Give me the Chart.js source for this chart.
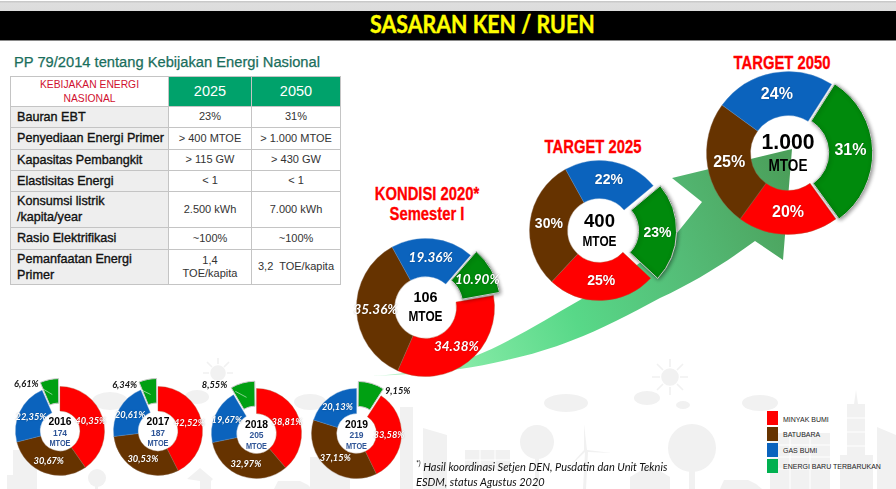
<!DOCTYPE html>
<html><head><meta charset="utf-8">
<script src="https://cdn.jsdelivr.net/npm/chart.js@4"></script>
<style>
html,body{margin:0;padding:0;background:#fff;overflow:hidden}
#page{position:relative;width:896px;height:489px;overflow:hidden;font-family:"Liberation Sans",Arial,sans-serif}
#page>*{position:absolute}
#strip{left:0;top:1px;width:896px;height:10px;background:linear-gradient(#c4c4c4,#dedede 25%,#dcdcdc)}
#bar{left:0;top:11px;width:896px;height:29px;background:#000;border-bottom:1px solid #8a8a8a}
#head{left:370px;top:9px;font:700 24px/30px Lato,sans-serif;color:#ffff00;white-space:nowrap;-webkit-text-stroke:.4px #ffff00;transform:scaleX(.89);transform-origin:left center}
#sub{left:14px;top:53px;font:500 14.7px/18px "Liberation Sans",sans-serif;color:#1a6e5c;white-space:nowrap;-webkit-text-stroke:.25px #1a6e5c}
table{left:10px;top:76px;width:330px;height:209px;border-collapse:collapse;table-layout:fixed}
td{border:1px solid #c4c4c4;padding:0;text-align:center;font-size:11px;line-height:13.5px;color:#333;vertical-align:middle}
td.l{background:#eeeeee;color:#111;text-align:left;padding-left:6px;font-size:12.6px;line-height:16px;-webkit-text-stroke:.35px #111;white-space:nowrap}
td.h{background:#00a26b;color:#fff;font-size:14.5px}
td.k{color:#d01030;font-size:10.3px;line-height:14px}
.title{color:#ff0000;font:700 18.5px/20px "Liberation Sans",sans-serif;text-align:center;white-space:nowrap;transform:translateX(-50%) scaleX(.8);-webkit-text-stroke:.3px #f00}
canvas{position:absolute}
.sw{width:11px;height:14px}
.lg{left:783px;font:400 7px/10px "Liberation Sans",sans-serif;color:#222;white-space:nowrap}
#note{left:416px;top:460px;font:italic 400 11px/14.5px Lato,sans-serif;color:#111;white-space:nowrap}
#note sup{font-size:7px;line-height:0}
</style></head><body>
<div id="page">
<svg id="decor" width="896" height="489" style="left:0;top:0" fill="#f1f1f1" stroke="none">
<g id="suns" stroke="#f1f1f1" stroke-width="1.6">
<circle cx="670" cy="377" r="8"/><path d="M670 359v8M670 387v8M652 377h8M680 377h8M657 364l6 6M677 384l6 6M683 364l-6 6M663 384l-6 6"/>
<circle cx="218" cy="373" r="7"/><path d="M218 358v6M203 373h6M227 373h6M207 362l5 5M229 362l-5 5"/>
</g>
<g>
<ellipse cx="566" cy="403" rx="22" ry="9"/><ellipse cx="647" cy="398" rx="13" ry="7"/><ellipse cx="683" cy="405" rx="7" ry="4"/><ellipse cx="760" cy="403" rx="18" ry="8"/>
<ellipse cx="110" cy="401" rx="18" ry="9"/><ellipse cx="197" cy="397" rx="12" ry="7"/><ellipse cx="310" cy="402" rx="16" ry="8"/>
<circle cx="537" cy="442" r="17"/><rect x="535" y="442" width="4" height="47"/>
<circle cx="692" cy="448" r="24"/><rect x="689" y="448" width="6" height="41"/>
<circle cx="97" cy="478" r="9"/><rect x="95" y="478" width="3" height="11"/>
<path d="M584 424l3 26 25 3-24-1-2 37h-3l2-37-18 17 17-19z"/>
<path d="M630 489v-12l20-12 20 12v12z"/><path d="M200 489v-8l-13-2 13-11 13 11-2 2v8z"/>
<path d="M465 450h45v20h-45zM7 475h23v14H7z"/>
<path d="M856 390l2 14h7v85h-18v-85h7z"/><path d="M840 455h33v34h-33zM877 427l19 8v54h-19zM770 433h60v56h-60z"/>
<path d="M423 428l24 7v54h-24zM400 407h13v82h-13zM13 450h24v39H13zM310 457h40v32h-40z"/>
<path d="M720 489l4-9h24l8 4 6 5z"/><path d="M274 489l4-8h22l8 4 4 4z"/>
</g>
<g stroke="#fff" stroke-width="1" fill="none">
<path d="M465 460h45M480 450v20M495 450v20M770 445h60M770 457h60M770 469h60M790 433v56M810 433v56M847 418h18M847 432h18M847 446h18"/>
</g>
</svg>
<svg id="arrow" width="896" height="489" style="left:0;top:0">
<defs><linearGradient id="ag" gradientUnits="userSpaceOnUse" x1="372" y1="376" x2="792" y2="180">
<stop offset="0" stop-color="#c4f5d2"/><stop offset=".22" stop-color="#7fe8a2"/><stop offset=".45" stop-color="#58d888"/><stop offset=".72" stop-color="#54bb76"/><stop offset="1" stop-color="#4b9f5a"/></linearGradient></defs>
<path fill="url(#ag)" d="M372 376C410 374 445 366 473 357C510 342 545 320 580 300C625 275 660 250 677 233L702 202L672 178L792 149L783 260L755 241C725 263 695 282 660 298C630 314 600 330 573 340C550 349 530 355 507 360C490 364 475 367 460 369C430 373 400 375 372 376Z"/>
</svg>
<div id="strip"></div><div id="bar"></div>
<div id="head"></div><div id="sub"></div>
<table id="tbl"></table>
<div id="titles"></div>
<div id="charts" style="left:0;top:0"></div>
<div id="legend" style="left:0;top:0"></div>
<div id="note"></div>
</div>
<script>
// ---- text ----
const headline = 'SASARAN KEN / RUEN';
const subtitle = 'PP 79/2014 tentang Kebijakan Energi Nasional';
const tableHeader = ['KEBIJAKAN ENERGI<br>NASIONAL', '2025', '2050'];
const rowLabels = ['Bauran EBT','Penyediaan Energi Primer','Kapasitas Pembangkit','Elastisitas Energi','Konsumsi listrik<br>/kapita/year','Rasio Elektrifikasi','Pemanfaatan Energi<br>Primer'];
const col2025 = ['23%','> 400 MTOE','> 115 GW','< 1','2.500 kWh','~100%','1,4<br>TOE/kapita'];
const col2050 = ['31%','> 1.000 MTOE','> 430 GW','< 1','7.000 kWh','~100%','3,2&nbsp; TOE/kapita'];
const footnote = ['<sup>*)</sup> Hasil koordinasi Setjen DEN, Pusdatin dan Unit Teknis','ESDM, status Agustus 2020'];
// ---- data ----
const categories = ['MINYAK BUMI','BATUBARA','GAS BUMI','ENERGI BARU TERBARUKAN'];
const values2016 = [40.35,30.67,22.35,6.61];
const values2017 = [42.52,30.53,20.61,6.34];
const values2018 = [38.81,32.97,19.67,8.55];
const values2019 = [33.58,37.15,20.13,9.15];
const values2020 = [34.38,35.36,19.36,10.90];
const values2025 = [25,30,22,23];
const values2050 = [20,25,24,31];
const labels2016 = ['40,35%','30,67%','22,35%','6,61%'];
const labels2017 = ['42,52%','30,53%','20,61%','6,34%'];
const labels2018 = ['38,81%','32,97%','19,67%','8,55%'];
const labels2019 = ['33,58%','37,15%','20,13%','9,15%'];
const labels2020 = ['34.38%','35.36%','19.36%','10.90%'];
const labels2025 = ['25%','30%','22%','23%'];
const labels2050 = ['20%','25%','24%','31%'];
// ---- colours ----
const RED='#ff0000',BROWN='#663300',BLUE='#0b63bd',DGREEN='#008a0c',LGREEN='#00a012',LEG='#00b050';
const NUM='"Liberation Sans",sans-serif';
const CB='#2f5597';
const smallCentre=(y,v)=>[
 {t:y,dy:-9,font:'700 11.5px '+NUM,c:'#000',w:23},
 {t:v,dy:2.5,font:'700 8.5px '+NUM,c:CB},
 {t:'MTOE',dy:12.5,font:'700 9.5px '+NUM,c:CB,w:21}];
const smallFont='italic 700 9.3px Lato,sans-serif';
const charts=[
 {v:values2016,l:labels2016,cx:60.3,cy:430.7,r:44.5,ri:20,rot:0,off:20,green:LGREEN,font:smallFont,centre:smallCentre('2016','174'),gc:'#111',n:[-26,-11],leader:1},
 {v:values2017,l:labels2017,cx:158,cy:430.7,r:44.5,ri:20,rot:0,off:20,green:LGREEN,font:smallFont,centre:smallCentre('2017','187'),gc:'#111',n:[-26,-9],leader:1},
 {v:values2018,l:labels2018,cx:256,cy:433.3,r:45,ri:20,rot:0,off:20,green:LGREEN,font:smallFont,centre:smallCentre('2018','205'),gc:'#111',n:[-32,-12],leader:1},
 {v:values2019,l:labels2019,cx:356,cy:433.7,r:45,ri:20,rot:33,off:20,green:LGREEN,font:smallFont,centre:smallCentre('2019','219'),gc:'#111',n:[30.5,-7]},
 {v:values2020,l:labels2020,cx:425.8,cy:307,r:69,ri:31,rot:80,off:20,green:DGREEN,font:'italic 700 13.5px Lato,sans-serif',gc:'#fff',n:[4,-1],shadow:1,
  centre:[{t:'106',dy:-9.5,font:'700 15px '+NUM,c:'#000',w:24},{t:'MTOE',dy:9,font:'700 15px '+NUM,c:'#000',w:34}]},
 {v:values2025,l:labels2025,cx:599,cy:230,r:70,ri:32,rot:133,off:28,green:DGREEN,font:'700 14px '+NUM,gc:'#fff',n:[0,1.5],shadow:1,
  centre:[{t:'400',dy:-9,font:'700 19px '+NUM,c:'#000',w:31},{t:'MTOE',dy:11,font:'700 15px '+NUM,c:'#000',w:34}]},
 {v:values2050,l:labels2050,cx:788.3,cy:153.3,r:81.7,ri:37.5,rot:144,off:12,green:DGREEN,font:'700 16px '+NUM,gc:'#fff',n:[0,0],shadow:1,
  centre:[{t:'1.000',dy:-10.5,font:'700 22px '+NUM,c:'#000',w:53},{t:'MTOE',dy:13.5,font:'700 17px '+NUM,c:'#000',w:39}]},
];
const titles=[['TARGET 2050',782,52.7],['TARGET 2025',593,136.7],['KONDISI 2020*',427,184],['Semester I',427,204]];
const legendColors=[RED,BROWN,BLUE,LEG], legendSwY=[411,427,443,459], legendTxY=[415,430,446,462];

document.getElementById('head').textContent=headline;
document.getElementById('sub').textContent=subtitle;
document.getElementById('note').innerHTML=footnote.join('<br>');
const rowH=[30,21,21.5,21.5,21,35.5,22.5,35];
let html='<colgroup><col style="width:158px"><col style="width:83px"><col style="width:89px"></colgroup>';
html+=`<tr style="height:${rowH[0]}px"><td class="k">${tableHeader[0]}</td><td class="h">${tableHeader[1]}</td><td class="h">${tableHeader[2]}</td></tr>`;
rowLabels.forEach((r,i)=>{html+=`<tr style="height:${rowH[i+1]}px"><td class="l">${r}</td><td>${col2025[i].replace('< 1','&lt; 1').replace('> ','&gt; ')}</td><td>${col2050[i].replace('< 1','&lt; 1').replace('> ','&gt; ')}</td></tr>`});
document.getElementById('tbl').innerHTML=html;
const tEl=document.getElementById('titles');
titles.forEach(t=>{const d=document.createElement('div');d.className='title';d.style.cssText=`position:absolute;left:${t[1]}px;top:${t[2]}px`;d.textContent=t[0];tEl.appendChild(d)});
const lEl=document.getElementById('legend');
categories.forEach((c,i)=>{
 const s=document.createElement('div');s.className='sw';s.style.cssText=`position:absolute;left:767px;top:${legendSwY[i]}px;background:${legendColors[i]}`;lEl.appendChild(s);
 const t=document.createElement('div');t.className='lg';t.style.cssText=`position:absolute;top:${legendTxY[i]}px`;t.textContent=c;lEl.appendChild(t);
});

const donutText={id:'donutText',
 afterDatasetsDraw(chart,args,o){
  const c=chart.ctx,arcs=chart.getDatasetMeta(0).data,cfg=o.cfg;
  const g=arcs[3];
  if(cfg.shadow){c.save();c.shadowColor='rgba(0,0,0,.45)';c.shadowBlur=4;c.shadowOffsetX=1;c.shadowOffsetY=1;g.draw(c);c.restore();}
  const x0=g.x,y0=g.y;
  c.textAlign='center';c.textBaseline='middle';
  arcs.forEach((a,i)=>{
   const p=a.getCenterPoint();let x=p.x,y=p.y;
   if(i===3){ // getCenterPoint moves by offset/2, the arc itself by offset/4
    const m=(a.startAngle+a.endAngle)/2,s=cfg.off/4;x-=Math.cos(m)*s;y-=Math.sin(m)*s;
    const sx=x,sy=y;x+=cfg.n[0];y+=cfg.n[1];
    if(cfg.leader){c.save();c.strokeStyle='rgba(255,255,255,.75)';c.lineWidth=.7;c.beginPath();c.moveTo(sx,sy);c.lineTo(sx+(x-sx)*.35,sy+(y-sy)*.5);c.stroke();c.restore();}
   }
   c.save();c.font=cfg.font;
   const col=i===3?cfg.gc:'#fff';c.fillStyle=col;
   if(col==='#fff'){c.shadowColor='rgba(0,0,0,.35)';c.shadowBlur=1.5;}
   c.fillText(cfg.l[i],x,y);c.restore();
  });
  cfg.centre.forEach(l=>{c.font=l.font;c.fillStyle=l.c;
   if(l.w)c.fillText(l.t,x0,y0+l.dy,l.w);else c.fillText(l.t,x0,y0+l.dy)});
 }};
const box=document.getElementById('charts');
const PAD=14,BW=1;
charts.forEach(cfg=>{
 const size=2*cfg.r+cfg.off+BW+2*PAD;
 const cv=document.createElement('canvas');
 cv.style.left=(cfg.cx-size/2)+'px';cv.style.top=(cfg.cy-size/2)+'px';
 cv.style.width=size+'px';cv.style.height=size+'px';cv.width=size;cv.height=size;
 box.appendChild(cv);
 new Chart(cv,{type:'doughnut',
  data:{labels:categories,datasets:[{data:cfg.v,
   backgroundColor:[RED,BROWN,BLUE,cfg.green],
   borderColor:['#b05030','#8a6a50','#5a90c8','#c9c9c9'],
   borderWidth:[.4,.4,.4,BW],
   offset:[0,0,0,cfg.off],hoverOffset:0,hoverBorderWidth:0}]},
  options:{responsive:false,animation:false,devicePixelRatio:window.devicePixelRatio||1,
   cutout:cfg.ri,rotation:cfg.rot,layout:{padding:PAD},events:[],
   plugins:{legend:{display:false},tooltip:{enabled:false},donutText:{cfg}}},
  plugins:[donutText]});
});
</script>
</body></html>
